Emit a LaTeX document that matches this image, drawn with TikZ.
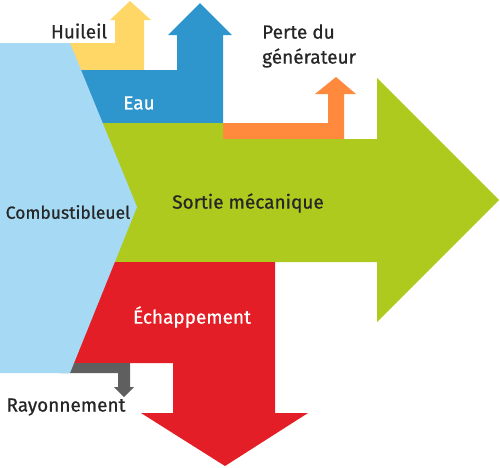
\documentclass[tikz,border=0pt]{standalone}
\usepackage{fontspec}
\setmainfont{Fira Sans}[RawFeature={embolden=0.7}]
\definecolor{fuelblue}{HTML}{A6DAF4}
\definecolor{oilyellow}{HTML}{FFD766}
\definecolor{waterblue}{HTML}{2E96CC}
\definecolor{genorange}{HTML}{FF8A3D}
\definecolor{mechgreen}{HTML}{AFCA1F}
\definecolor{exhred}{HTML}{E31E26}
\definecolor{radgray}{HTML}{5F5F5F}
\definecolor{txtdark}{HTML}{262626}
\begin{document}
\begin{tikzpicture}[x=1pt,y=-1pt,
    lbl/.style={font=\fontsize{19}{25}\selectfont, text=txtdark, inner sep=0pt},
    lblwhite/.style={lbl, text=white}]
        \useasboundingbox (0,0) rectangle (500,467);
        
        % streams leaving the fuel block
        \fill[oilyellow] (60,43) -- (115,43) -- (115,20) -- (110,20) -- (130,1)
            -- (151,20) -- (144,20) -- (144,70) -- (60,70) -- cycle;
        \fill[waterblue] (60,70) -- (177,70) -- (177,35) -- (168,35) -- (200,3)
            -- (232,35) -- (223,35) -- (223,123) -- (60,123) -- cycle;
        \fill[genorange] (223,123) -- (328,123) -- (328,94) -- (315,94) -- (336,77)
            -- (356,94) -- (344,94) -- (344,139) -- (223,139) -- cycle;
        \fill[mechgreen] (60,123) -- (223,123) -- (223,139) -- (377,139) -- (377,78)
            -- (499,200) -- (377,322) -- (377,262) -- (60,262) -- cycle;
        \fill[exhred] (60,262) -- (275,262) -- (275,413) -- (308,413) -- (225,466)
            -- (141,413) -- (173,413) -- (173,363) -- (60,363) -- cycle;
        \fill[radgray] (60,363) -- (130,363) -- (130,387) -- (134,387) -- (124,397)
            -- (114,387) -- (118,387) -- (118,373) -- (60,373) -- cycle;
        
        % fuel input
        \fill[fuelblue] (0,43) -- (70,43) -- (137,207) -- (70,373) -- (0,373) -- cycle;
        
        \node[lbl] (huileil) at (79,31) {Huileil};
        \node[lbl, align=left, anchor=west] (perte) at (262,46) {Perte du\\générateur};
        \node[lblwhite] (eau) at (139,103) {Eau};
        \node[lbl] (sortie) at (248,203) {Sortie mécanique};
        \node[lbl, font=\fontsize{17.5}{21}\selectfont] (combustible) at (68,212) {Combustibleuel};
        \node[lblwhite] (echappement) at (192,317) {Échappement};
        \node[lbl] (rayonnement) at (66,407) {Rayonnement};
    \end{tikzpicture}
\end{document}
